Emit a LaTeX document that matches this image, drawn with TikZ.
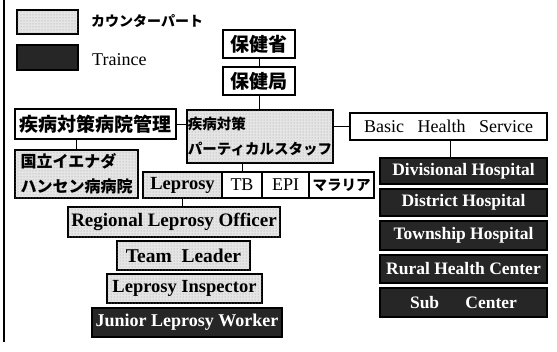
\documentclass[tikz,border=0pt]{standalone}
\usepackage{fontspec}
\setmainfont{Liberation Serif}
\newfontfamily\jp{Noto Sans CJK JP}
\usetikzlibrary{patterns}
\begin{document}
\begin{tikzpicture}[x=1pt,y=-1pt,
  basebox/.style={draw=black, line width=1.1pt, inner sep=0pt, rectangle},
  wbox/.style={basebox, fill=white},
  lbox/.style={basebox, fill=black!10, postaction={pattern=dots, pattern color=black!40}},
  dbox/.style={basebox, fill=black!85, text=white, font=\fontsize{17.5}{19}\selectfont\bfseries},
  conn/.style={draw=black, line width=0.9pt},
  jpl/.style={font=\fontsize{19}{21}\selectfont\jp\bfseries},
  jpm/.style={font=\fontsize{14.5}{25}\selectfont\jp\bfseries},
  latl/.style={font=\fontsize{18}{20}\selectfont},
  latb/.style={font=\fontsize{18.5}{20}\selectfont\bfseries}
]
\useasboundingbox (0,0) rectangle (557,351);
\fill[white] (0,0) rectangle (557,351);
% left frame line
\coordinate (ft) at (4,0);
\coordinate (fb) at (4,342);
\draw[line width=1.8pt] (ft) -- (fb);

% legend
\node[lbox, minimum width=61pt, minimum height=24pt] (leg1) at (47.5,22) {};
\node[dbox, minimum width=61pt, minimum height=25pt] (leg2) at (47.5,57.5) {};
\node[anchor=west, font=\fontsize{14}{16}\selectfont\jp\bfseries, inner sep=0pt] (leg1t) at (91,21) {カウンターパート};
\node[anchor=west, latl, inner sep=0pt] (leg2t) at (92,60) {Traince};

% top
\node[wbox, jpl, minimum width=72pt, minimum height=28pt] (moh) at (259,44) {保健省};
\node[wbox, jpl, minimum width=72pt, minimum height=28pt] (dept) at (259,81) {保健局};

% second row
\node[wbox, jpl, minimum width=161pt, minimum height=30pt] (hosp) at (95.5,124) {疾病対策病院管理};
\node[lbox, jpm, align=left, minimum width=146pt, minimum height=53pt] (vert) at (260,136.5) {疾病対策\\パーティカルスタッフ};
\node[wbox, font=\fontsize{18}{20}\selectfont, minimum width=197pt, minimum height=27pt] (bhs) at (448.5,126.5) {Basic\hspace{0.75em}Health\hspace{0.75em}Service};

% third row
\node[lbox, font=\fontsize{16}{25}\selectfont\jp\bfseries, align=left, minimum width=123pt, minimum height=48pt] (nat) at (76.5,174) {国立イエナダ\\ハンセン病病院};
\node[lbox, latb, minimum width=79pt, minimum height=26pt] (lep) at (182.5,185) {Leprosy};
\node[wbox, latl, minimum width=40pt, minimum height=26pt] (tb) at (242,185) {TB};
\node[wbox, latl, minimum width=47pt, minimum height=26pt] (epi) at (285.5,185) {EPI};
\node[wbox, jpm, minimum width=65pt, minimum height=26pt] (mal) at (341.5,185) {マラリア};

% leprosy chain
\node[lbox, font=\fontsize{19}{21}\selectfont\bfseries, minimum width=212pt, minimum height=30pt] (rlo) at (174,222) {Regional Leprosy Officer};
\node[lbox, font=\fontsize{19.5}{21}\selectfont\bfseries, minimum width=133pt, minimum height=29pt] (tl) at (183.5,255.5) {Team\hspace{0.5em}Leader};
\node[lbox, latb, minimum width=155pt, minimum height=29pt] (li) at (184.5,288.5) {Leprosy Inspector};
\node[dbox, font=\fontsize{18}{20}\selectfont\bfseries, minimum width=190pt, minimum height=29pt] (jlw) at (187,322.5) {Junior Leprosy Worker};

% BHS chain
\node[dbox, minimum width=167pt, minimum height=26pt] (div) at (463.5,171) {Divisional Hospital};
\node[dbox, minimum width=167pt, minimum height=27pt] (dis) at (463.5,202.5) {District Hospital};
\node[dbox, minimum width=167pt, minimum height=29pt] (tow) at (463.5,235.5) {Township Hospital};
\node[dbox, minimum width=167pt, minimum height=28pt] (rur) at (463.5,269) {Rural Health Center};
\node[dbox, minimum width=167pt, minimum height=29pt] (sub) at (463.5,302.5) {Sub\hspace{1.5em}Center};

% connectors
\draw[conn] (moh.south) -- (dept.north);
\draw[conn] (dept.south) -- (vert.north -| dept.south);
\draw[conn] (hosp.east) -- (hosp.east -| vert.west);
\draw[conn] (vert.east |- bhs.west) -- (bhs.west);
\draw[conn] (hosp.south -| nat.north) -- (nat.north);
\draw[conn] (vert.south -| tb.north) -- (tb.north);
\draw[conn] (lep.south) -- (lep.south |- rlo.north);
\draw[conn] (bhs.south -| 450,0) -- (div.north -| 450,0);
\end{tikzpicture}
\end{document}
